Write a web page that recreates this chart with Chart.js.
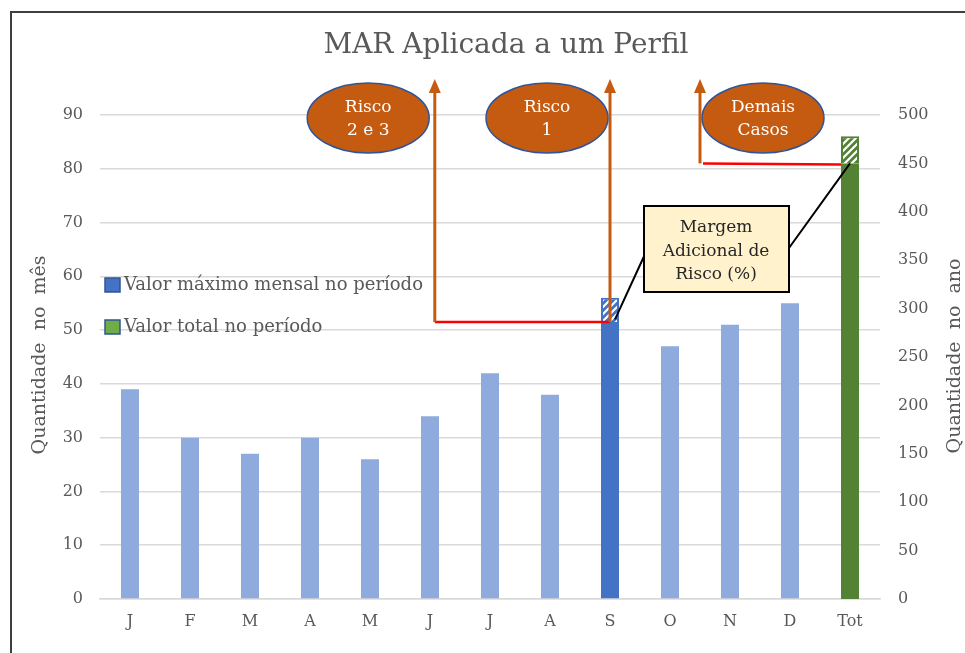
<!DOCTYPE html>
<html>
<head>
<meta charset="utf-8">
<script src="https://cdn.jsdelivr.net/npm/chart.js@4/dist/chart.umd.min.js"></script>
<style>
  html, body { margin: 0; padding: 0; background: #fff; }
  #grafico { display: block; }
</style>
</head>
<body>
<canvas id="grafico" width="965" height="653"></canvas>
<script>
// Dados
var meses = ['J', 'F', 'M', 'A', 'M', 'J', 'J', 'A', 'S', 'O', 'N', 'D', 'Tot'];
var valorMensal = [39, 30, 27, 30, 26, 34, 42, 38, 51.5, 47, 51, 55, null];
var margemMensal = [null, null, null, null, null, null, null, null, 4.5, null, null, null, null];
var valorTotal = [null, null, null, null, null, null, null, null, null, null, null, null, 450];
var margemTotal = [null, null, null, null, null, null, null, null, null, null, null, null, 28];
var ticksMes = [0, 10, 20, 30, 40, 50, 60, 70, 80, 90];
var ticksAno = [0, 50, 100, 150, 200, 250, 300, 350, 400, 450, 500];
var legendas = ['Valor máximo mensal no período', 'Valor total no período'];

var fonte = '"DejaVu Serif", "Liberation Serif", serif';
var cinza = '#595959';
var azulClaro = '#8FAADC';
var azul = '#4472C4';
var verde = '#548235';
var laranja = '#C55A11';

const ctx = document.getElementById('grafico');
var g2d = ctx.getContext('2d');

// Padrão hachurado (listras brancas diagonais)
function criarHachura(corFundo) {
  var c = document.createElement('canvas');
  c.width = 7;
  c.height = 7;
  var g = c.getContext('2d');
  g.fillStyle = corFundo;
  g.fillRect(0, 0, 7, 7);
  g.strokeStyle = '#ffffff';
  g.lineWidth = 2.2;
  g.beginPath();
  g.moveTo(0, 7); g.lineTo(7, 0);
  g.moveTo(-3.5, 3.5); g.lineTo(3.5, -3.5);
  g.moveTo(3.5, 10.5); g.lineTo(10.5, 3.5);
  g.stroke();
  return g2d.createPattern(c, 'repeat');
}

var coresMensal = meses.map(function (m, i) { return i === 8 ? azul : azulClaro; });

function seta(c, x, y0, y1) {
  c.strokeStyle = laranja;
  c.fillStyle = laranja;
  c.lineWidth = 3;
  c.beginPath();
  c.moveTo(x, y0);
  c.lineTo(x, y1 + 12);
  c.stroke();
  c.beginPath();
  c.moveTo(x, y1);
  c.lineTo(x - 6, y1 + 14);
  c.lineTo(x + 6, y1 + 14);
  c.closePath();
  c.fill();
}

function elipse(c, cx, cy, linhas) {
  c.beginPath();
  c.ellipse(cx, cy, 61, 35, 0, 0, Math.PI * 2);
  c.fillStyle = laranja;
  c.fill();
  c.lineWidth = 1.5;
  c.strokeStyle = '#2F5597';
  c.stroke();
  c.fillStyle = '#ffffff';
  c.font = '17px ' + fonte;
  c.textAlign = 'center';
  c.textBaseline = 'middle';
  c.fillText(linhas[0], cx, cy - 10);
  c.fillText(linhas[1], cx, cy + 13);
}

var decoracao = {
  id: 'decoracao',
  afterDraw: function (chart) {
    var c = chart.ctx;
    var x = chart.scales.x;
    var y = chart.scales.y;
    var y1 = chart.scales.y1;
    c.save();

    // moldura
    c.strokeStyle = '#3F3F3F';
    c.lineWidth = 2;
    c.beginPath();
    c.moveTo(11, 653);
    c.lineTo(11, 12);
    c.lineTo(965, 12);
    c.stroke();

    // título
    c.fillStyle = cinza;
    c.font = '28px ' + fonte;
    c.textAlign = 'center';
    c.textBaseline = 'middle';
    c.fillText('MAR Aplicada a um Perfil', 506, 46);

    // títulos dos eixos
    c.font = '19px ' + fonte;
    c.save();
    c.translate(40, 355);
    c.rotate(-Math.PI / 2);
    c.fillText('Quantidade  no  mês', 0, 0);
    c.restore();
    c.save();
    c.translate(955, 356);
    c.rotate(-Math.PI / 2);
    c.fillText('Quantidade  no  ano', 0, 0);
    c.restore();

    // legenda
    var coresLeg = [azul, '#70AD47'];
    for (var i = 0; i < legendas.length; i++) {
      var ly = 285 + i * 42;
      c.fillStyle = coresLeg[i];
      c.fillRect(105, ly - 7, 15, 14);
      c.strokeStyle = '#2F5597';
      c.lineWidth = 1.5;
      c.strokeRect(105, ly - 7, 15, 14);
      c.fillStyle = cinza;
      c.font = '18px ' + fonte;
      c.textAlign = 'left';
      c.fillText(legendas[i], 124, ly);
    }

    // linhas vermelhas
    var yRisco = y.getPixelForValue(valorMensal[8]);
    var yTotal = y1.getPixelForValue(valorTotal[12]);
    c.strokeStyle = '#FF0000';
    c.lineWidth = 2.5;
    c.beginPath();
    c.moveTo(x.getPixelForValue(5.08), yRisco);
    c.lineTo(x.getPixelForValue(8), yRisco);
    c.moveTo(x.getPixelForValue(9.55), yTotal);
    c.lineTo(x.getPixelForValue(11.85), yTotal + 1);
    c.stroke();

    // setas
    seta(c, x.getPixelForValue(5.08), yRisco, 79);
    seta(c, x.getPixelForValue(8), yRisco, 79);
    seta(c, x.getPixelForValue(9.5), yTotal, 79);

    // elipses
    elipse(c, x.getPixelForValue(3.97), 118, ['Risco', '2 e 3']);
    elipse(c, x.getPixelForValue(6.95), 118, ['Risco', '1']);
    elipse(c, x.getPixelForValue(10.55), 118, ['Demais', 'Casos']);

    // linhas pretas da caixa
    c.strokeStyle = '#000000';
    c.lineWidth = 2;
    c.beginPath();
    c.moveTo(x.getPixelForValue(8) + 5, y.getPixelForValue(52));
    c.lineTo(646, 252);
    c.moveTo(789, 248);
    c.lineTo(x.getPixelForValue(12), yTotal);
    c.stroke();

    // caixa "Margem Adicional de Risco"
    c.fillStyle = '#FFF2CC';
    c.fillRect(644, 206, 145, 86);
    c.lineWidth = 2;
    c.strokeRect(644, 206, 145, 86);
    c.fillStyle = '#262626';
    c.font = '17px ' + fonte;
    c.textAlign = 'center';
    c.fillText('Margem', 716, 228);
    c.fillText('Adicional de', 716, 252);
    c.fillText('Risco (%)', 716, 275);

    c.restore();
  }
};

new Chart(ctx, {
  type: 'bar',
  data: {
    labels: meses,
    datasets: [
      { label: legendas[0], data: valorMensal, yAxisID: 'y', backgroundColor: coresMensal },
      { label: 'Margem mensal', data: margemMensal, yAxisID: 'y', backgroundColor: criarHachura(azul), borderColor: azul, borderWidth: 2 },
      { label: legendas[1], data: valorTotal, yAxisID: 'y1', backgroundColor: verde },
      { label: 'Margem total', data: margemTotal, yAxisID: 'y1', backgroundColor: criarHachura(verde), borderColor: verde, borderWidth: 2 }
    ]
  },
  options: {
    responsive: false,
    animation: false,
    barPercentage: 0.3,
    categoryPercentage: 1,
    layout: { padding: { top: 115, left: 12, right: 0, bottom: 21 } },
    plugins: {
      legend: { display: false },
      title: { display: false },
      tooltip: { enabled: false }
    },
    scales: {
      x: {
        stacked: true,
        grid: { display: false, drawTicks: false },
        border: { display: true, color: '#D9D9D9', width: 1.5 },
        ticks: { color: cinza, font: { family: fonte, size: 16 }, padding: 13 },
        afterFit: function (s) { s.height = 33; }
      },
      y: {
        stacked: true,
        min: 0,
        max: 90,
        afterBuildTicks: function (s) { s.ticks = ticksMes.map(function (v) { return { value: v }; }); },
        grid: { color: '#D9D9D9', lineWidth: 1.5, drawTicks: false },
        border: { display: false },
        ticks: { color: cinza, font: { family: fonte, size: 16 }, padding: 17 },
        afterFit: function (s) { s.width = 88; }
      },
      y1: {
        stacked: true,
        position: 'right',
        min: 0,
        max: 500,
        afterBuildTicks: function (s) { s.ticks = ticksAno.map(function (v) { return { value: v }; }); },
        grid: { display: false, drawTicks: false },
        border: { display: false },
        ticks: { color: cinza, font: { family: fonte, size: 16 }, padding: 18 },
        afterFit: function (s) { s.width = 85; }
      }
    }
  },
  plugins: [decoracao]
});
</script>
</body>
</html>
